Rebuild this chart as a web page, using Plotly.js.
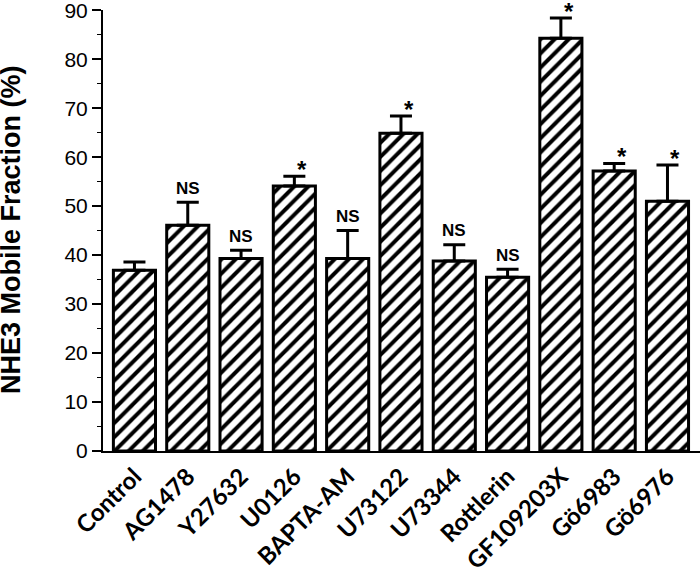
<!DOCTYPE html>
<html>
<head>
<meta charset="utf-8">
<script src="https://cdn.plot.ly/plotly-3.0.1.min.js"></script>
<style>html,body{margin:0;padding:0;background:#fff;}#chart{width:700px;height:573px;}</style>
</head>
<body>
<div id="chart"></div>
<script>
const categories = ["Control","AG1478","Y27632","U0126","BAPTA-AM","U73122","U73344","Rottlerin","GF109203X","Gö6983","Gö6976"];
const means = [36.9, 46.1, 39.3, 54.1, 39.3, 64.9, 38.8, 35.5, 84.3, 57.2, 51.0];
const errors = [1.7, 4.7, 1.7, 2.0, 5.7, 3.5, 3.3, 1.6, 4.1, 1.5, 7.4];
const significance = ["", "NS", "NS", "*", "NS", "*", "NS", "NS", "*", "*", "*"];
const yTicks = [0,10,20,30,40,50,60,70,80,90];
const yTitle = 'NHE3 Mobile Fraction (%)';

const xIdx = categories.map((c,i)=>i);

const trace = {
  type: 'bar',
  x: xIdx,
  y: means,
  width: 0.79,
  marker: {
    color: 'white',
    line: {color: 'black', width: 3},
    pattern: {shape: '/', fgcolor: 'black', bgcolor: 'white', size: 10, solidity: 0.4, fillmode: 'replace'}
  },
  error_y: {
    type: 'data',
    symmetric: false,
    array: errors,
    arrayminus: errors.map(()=>0),
    color: 'black',
    thickness: 3,
    width: 11
  },
  hoverinfo: 'none'
};

const annotations = significance.map((s,i)=>{
  if(!s) return null;
  const isStar = s === '*';
  return {
    x: xIdx[i], y: means[i]+errors[i],
    xref: 'x', yref: 'y',
    text: s, showarrow: false,
    xanchor: 'center', yanchor: 'middle',
    xshift: isStar ? 8 : 0,
    yshift: isStar ? 7 : 14,
    font: {family: 'Liberation Sans, Arial, sans-serif', size: isStar ? 24 : 17, color: 'black', weight: 'bold'}
  };
}).filter(a=>a);

annotations.push({
  xref: 'paper', yref: 'paper',
  x: -103/597, y: (451-230)/441,
  xanchor: 'center', yanchor: 'middle',
  xshift: 11,
  text: yTitle, textangle: -90, showarrow: false,
  font: {family: 'Liberation Sans, Arial, sans-serif', size: 27, color: 'black', weight: 'bold'}
});

const layout = {
  width: 700, height: 573,
  margin: {l: 103, r: 0, t: 10, b: 122},
  paper_bgcolor: 'white', plot_bgcolor: 'white',
  showlegend: false,
  xaxis: {
    range: [-0.59, 10.61],
    tickmode: 'array', tickvals: xIdx, ticktext: categories,
    tickangle: -45,
    tickfont: {family: 'Lato, "Open Sans", sans-serif', size: 24, color: 'black', weight: 'bold'},
    showline: true, linecolor: 'black', linewidth: 2,
    ticks: '', showgrid: false, zeroline: false
  },
  yaxis: {
    range: [0, 90.05],
    tickmode: 'array', tickvals: yTicks,
    ticklabeloverflow: 'allow',
    ticks: 'outside', ticklen: 9, tickwidth: 1.5, tickcolor: 'black',
    minor: {dtick: 5, ticks: 'outside', ticklen: 4, tickwidth: 1.5, tickcolor: 'black', showgrid: false},
    tickfont: {family: 'Liberation Sans, Arial, sans-serif', size: 21, color: 'black'},
    showline: true, linecolor: 'black', linewidth: 2,
    showgrid: false, zeroline: false
  },
  annotations: annotations
};

Plotly.newPlot('chart', [trace], layout, {staticPlot: true, displayModeBar: false});
</script>
</body>
</html>
